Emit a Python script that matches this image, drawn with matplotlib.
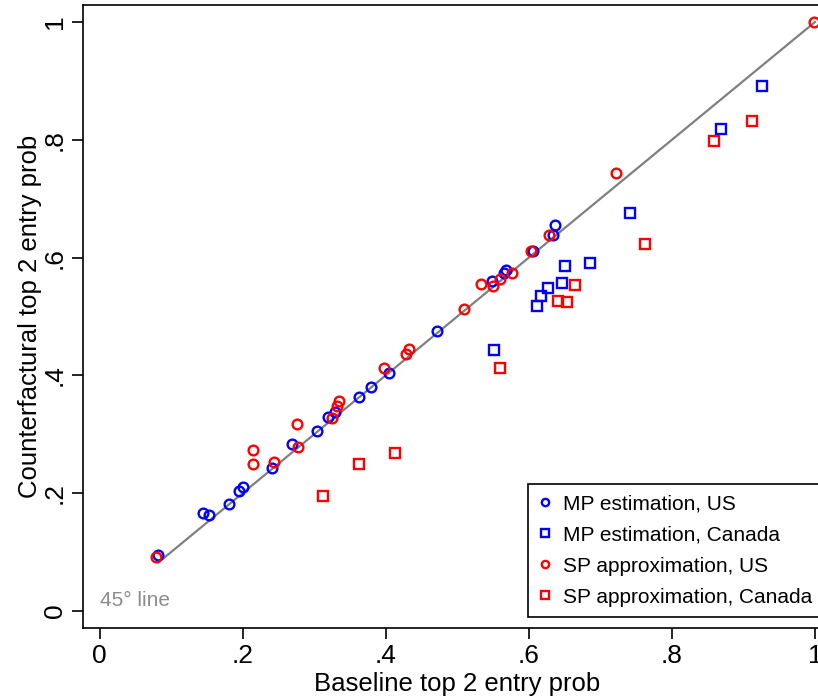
import matplotlib
matplotlib.use("Agg")
import matplotlib.pyplot as plt

plt.rcParams['font.family'] = ['Liberation Sans', 'DejaVu Sans']

# MP estimation, US (blue circles)
mp_us_x = [0.082, 0.145, 0.153, 0.181, 0.195, 0.201, 0.241, 0.269, 0.304, 0.320, 0.329,
           0.363, 0.379, 0.405, 0.471, 0.549, 0.565, 0.568, 0.606, 0.634, 0.637]
mp_us_y = [0.095, 0.166, 0.163, 0.181, 0.204, 0.210, 0.243, 0.283, 0.306, 0.329, 0.338,
           0.363, 0.381, 0.404, 0.476, 0.560, 0.574, 0.579, 0.612, 0.638, 0.655]

# MP estimation, Canada (blue squares)
mp_ca_x = [0.551, 0.611, 0.617, 0.627, 0.647, 0.651, 0.685, 0.742, 0.868, 0.926]
mp_ca_y = [0.443, 0.518, 0.534, 0.548, 0.557, 0.585, 0.590, 0.675, 0.818, 0.891]

# SP approximation, US (red circles)
sp_us_x = [0.079, 0.214, 0.214, 0.244, 0.276, 0.278, 0.325, 0.332, 0.335, 0.398, 0.429,
           0.432, 0.509, 0.533, 0.550, 0.560, 0.576, 0.603, 0.628, 0.722, 0.998]
sp_us_y = [0.091, 0.274, 0.249, 0.253, 0.317, 0.279, 0.328, 0.348, 0.357, 0.412, 0.437,
           0.445, 0.512, 0.555, 0.551, 0.564, 0.574, 0.612, 0.638, 0.744, 1.000]

# SP approximation, Canada (red squares)
sp_ca_x = [0.313, 0.362, 0.413, 0.560, 0.641, 0.654, 0.664, 0.762, 0.859, 0.912]
sp_ca_y = [0.195, 0.250, 0.268, 0.413, 0.526, 0.525, 0.553, 0.623, 0.798, 0.832]

line_45 = [0.083, 1.0]
ticks = [0, 0.2, 0.4, 0.6, 0.8, 1.0]
tick_labels = ['0', '.2', '.4', '.6', '.8', '1']

W, H = 818, 698
fig = plt.figure(figsize=(W / 100, H / 100), dpi=100)
left, right, bottom, top = 83, 831.5, 628, 5
ax = fig.add_axes([left / W, (H - bottom) / H, (right - left) / W, (bottom - top) / H])

ax.plot(line_45, line_45, color='#808080', lw=1.6, zorder=1)

mk = dict(linestyle='none', markerfacecolor='none', markeredgewidth=1.7, markersize=7)
ax.plot(mp_us_x, mp_us_y, marker='o', color='#0000ff', label='MP estimation, US', **mk)
ax.plot(mp_ca_x, mp_ca_y, marker='s', color='#0000ff', label='MP estimation, Canada', **mk)
ax.plot(sp_us_x, sp_us_y, marker='o', color='#ff0000', label='SP approximation, US', **mk)
ax.plot(sp_ca_x, sp_ca_y, marker='s', color='#ff0000', label='SP approximation, Canada', **mk)

ax.set_xlim(-0.0231, 1.0231)
ax.set_ylim(-0.0289, 1.0289)
ax.set_xticks(ticks)
ax.set_xticklabels(tick_labels)
ax.set_yticks(ticks)
ax.set_yticklabels(tick_labels, rotation=90, va='center')
ax.tick_params(axis='both', direction='out', length=8, width=1.2, labelsize=19, colors='black')
for s in ax.spines.values():
    s.set_linewidth(1.2)

ax.set_xlabel('Baseline top 2 entry prob', fontsize=18.5, labelpad=3)
ax.set_ylabel('Counterfactural top 2 entry prob', fontsize=18.5, labelpad=1)

ax.text(0.0, 0.018, '45° line', color='#8c8c8c', fontsize=15, ha='left', va='center')

leg = ax.legend(loc='lower left', bbox_to_anchor=((528 - left) / (right - left), (bottom - 617) / (bottom - top)),
                fontsize=15, frameon=True, fancybox=False, edgecolor='black', framealpha=1,
                markerscale=0.75, handlelength=0.6, handletextpad=0.6, labelspacing=0.58,
                borderpad=0.5, borderaxespad=0)
leg.get_frame().set_linewidth(1.2)

fig.savefig('out.png', dpi=100)
